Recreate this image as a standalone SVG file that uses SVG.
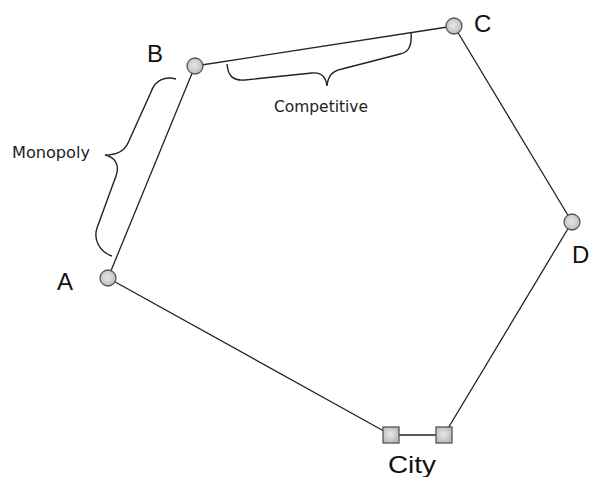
<svg xmlns="http://www.w3.org/2000/svg" width="591" height="477" viewBox="0 0 591 477">
<defs>
<radialGradient id="g" cx="0.45" cy="0.45" r="0.6">
<stop offset="0" stop-color="#e8e8e8"/>
<stop offset="1" stop-color="#b8b8b8"/>
</radialGradient>
</defs>
<style>
.edge{stroke:#222;stroke-width:1.3;fill:none}
.brace{stroke:#222;stroke-width:1.4;fill:none}
.node{fill:url(#g);stroke:#555;stroke-width:1.3}
.lbl{font-family:"Liberation Sans",Arial,sans-serif;font-size:24px;fill:#111}
.sm{font-family:"DejaVu Sans Condensed","DejaVu Sans",sans-serif;font-size:16px;fill:#222}
</style>
<rect width="591" height="477" fill="#fff"/>
<g id="connectors">
<line class="edge" x1="108" y1="278" x2="195" y2="66"/>
<line class="edge" x1="195" y1="66" x2="454" y2="26"/>
<line class="edge" x1="454" y1="26" x2="572" y2="222"/>
<line class="edge" x1="572" y1="222" x2="444" y2="435"/>
<line class="edge" x1="444" y1="435" x2="391" y2="435"/>
<line class="edge" x1="391" y1="435" x2="108" y2="278"/>
</g>
<g id="brace-monopoly">
<path class="brace" d="M176,79 C165,76 155,80 151,92 L128,143 C124,152 115,155 105,155 C115,157 120,165 116,176 L97,228 C93,240 100,252 112,256"/>
<text class="sm" x="12" y="158" textLength="78" lengthAdjust="spacingAndGlyphs">Monopoly</text>
</g>
<g id="brace-competitive">
<path class="brace" d="M227,64 C228,76 233,81 245,80 L312,73 C322,72 326,78 327,86 C328,76 332,71 342,69 L400,54 C410,52 412,44 411,32"/>
<text class="sm" x="274" y="112" textLength="94" lengthAdjust="spacingAndGlyphs">Competitive</text>
</g>
<g id="node-A">
<circle class="node" cx="108" cy="278" r="8"/>
<text class="lbl" x="57" y="290">A</text>
</g>
<g id="node-B">
<circle class="node" cx="195" cy="66" r="8"/>
<text class="lbl" x="147" y="62">B</text>
</g>
<g id="node-C">
<circle class="node" cx="454" cy="26" r="8"/>
<text class="lbl" x="474" y="32">C</text>
</g>
<g id="node-D">
<circle class="node" cx="572" cy="222" r="8"/>
<text class="lbl" x="572" y="263">D</text>
</g>
<g id="node-City">
<rect class="node" x="383" y="427" width="16" height="16"/>
<rect class="node" x="436" y="427" width="16" height="16"/>
<text class="lbl" x="388" y="473" textLength="48" lengthAdjust="spacingAndGlyphs">City</text>
</g>
</svg>
